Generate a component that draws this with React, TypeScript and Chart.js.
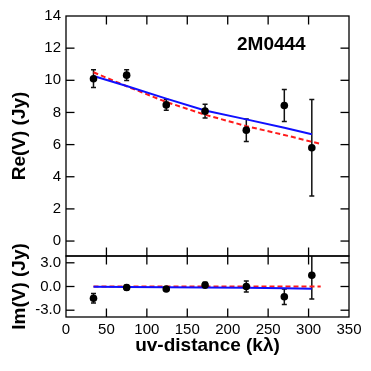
import React, { useEffect, useRef } from "react";
import { Chart, registerables } from "chart.js";

Chart.register(...registerables);

const FONT = "'Liberation Sans', Arial, Helvetica, sans-serif";

// ---- data ----
const uvDist = [34, 75, 124, 172, 223, 270, 304];
const reVis = [10.1, 10.32, 8.47, 8.08, 6.9, 8.43, 5.8];
const reErr = [0.55, 0.33, 0.33, 0.43, 0.7, 1.0, 3.0];
const imVis = [-1.48, -0.13, -0.32, 0.18, 0.0, -1.29, 1.42];
const imErr = [0.6, 0.3, 0.2, 0.35, 0.7, 0.98, 3.0];

const blueModelX = [34, 75, 124, 172, 223, 270, 304];
const reBlueModel = [10.27, 9.65, 8.86, 8.12, 7.57, 7.05, 6.64];
const imBlueModel = [-0.02, -0.05, -0.08, -0.12, -0.17, -0.23, -0.28];

const redModelX = [34, 75, 124, 172, 223, 270, 315];
const reRedModel = [10.5, 9.63, 8.65, 7.86, 7.15, 6.6, 6.04];
const imRedModel = [0, 0, 0, 0, 0, 0, 0];

const xTicks = [0, 50, 100, 150, 200, 250, 300, 350];
const reTicks = [0, 2, 4, 6, 8, 10, 12, 14];
const imTicks = [-3, 0, 3];

const sourceName = "2M0444";

// ---- plugins ----
const innerTicks = {
  id: "innerTicks",
  afterDatasetsDraw(chart: any, _args: any, opts: any) {
    const { ctx, chartArea: a, scales } = chart;
    const L = 8.5;
    ctx.save();
    ctx.strokeStyle = "#000";
    ctx.lineWidth = 1.3;
    ctx.strokeRect(a.left, a.top, a.right - a.left, a.bottom - a.top);
    const line = (x1: number, y1: number, x2: number, y2: number) => {
      ctx.beginPath();
      ctx.moveTo(x1, y1);
      ctx.lineTo(x2, y2);
      ctx.stroke();
    };
    for (const v of opts.xTicks || []) {
      const px = scales.x.getPixelForValue(v);
      if (px <= a.left + 1 || px >= a.right - 1) continue;
      line(px, a.top, px, a.top + L);
      line(px, a.bottom, px, a.bottom - L);
    }
    for (const v of opts.yTicks || []) {
      const py = scales.y.getPixelForValue(v);
      if (py <= a.top + 1 || py >= a.bottom - 1) continue;
      line(a.left, py, a.left + L, py);
      line(a.right, py, a.right - L, py);
    }
    ctx.restore();
  },
};

const errorBars = {
  id: "errorBars",
  beforeDatasetsDraw(chart: any) {
    const { ctx, chartArea: a, scales } = chart;
    ctx.save();
    ctx.beginPath();
    ctx.rect(a.left, a.top, a.right - a.left, a.bottom - a.top);
    ctx.clip();
    ctx.strokeStyle = "#111";
    ctx.lineWidth = 1.5;
    chart.data.datasets.forEach((ds: any, i: number) => {
      if (!ds.errors) return;
      const meta = chart.getDatasetMeta(i);
      meta.data.forEach((pt: any, j: number) => {
        const v = ds.data[j].y;
        const e = ds.errors[j];
        const x = pt.x;
        const yt = scales.y.getPixelForValue(v + e);
        const yb = scales.y.getPixelForValue(v - e);
        ctx.beginPath();
        ctx.moveTo(x, yt);
        ctx.lineTo(x, yb);
        ctx.moveTo(x - 2.5, yt);
        ctx.lineTo(x + 2.5, yt);
        ctx.moveTo(x - 2.5, yb);
        ctx.lineTo(x + 2.5, yb);
        ctx.stroke();
      });
    });
    ctx.restore();
  },
};

const nameLabel = {
  id: "nameLabel",
  afterDraw(chart: any, _a: any, opts: any) {
    if (!opts.text) return;
    const { ctx } = chart;
    ctx.save();
    ctx.font = `bold 19px ${FONT}`;
    ctx.fillStyle = "#000";
    ctx.textAlign = "left";
    ctx.textBaseline = "middle";
    ctx.fillText(opts.text, opts.x, opts.y);
    ctx.restore();
  },
};

function pts(xs: number[], ys: number[]) {
  return xs.map((x, i) => ({ x, y: ys[i] }));
}

function buildConfig(
  kind: "re" | "im",
  vis: number[],
  err: number[],
  blue: number[],
  red: number[],
  yTicks: number[],
  yMin: number,
  yMax: number,
  yTitle: string
): any {
  const isIm = kind === "im";
  return {
    type: "scatter",
    data: {
      datasets: [
        {
          data: pts(redModelX, red),
          showLine: true,
          borderColor: "#ff1a1a",
          borderWidth: 2,
          borderDash: [5, 3],
          pointRadius: 0,
          order: 2,
        },
        {
          data: pts(blueModelX, blue),
          showLine: true,
          borderColor: "#1010ff",
          borderWidth: 2,
          pointRadius: 0,
          order: 1,
        },
        {
          data: pts(uvDist, vis),
          errors: err,
          showLine: false,
          pointRadius: 3.8,
          pointBackgroundColor: "#000",
          pointBorderColor: "#000",
          pointBorderWidth: 0,
          order: 0,
        },
      ],
    },
    options: {
      responsive: false,
      animation: false,
      events: [],
      layout: {
        padding: isIm
          ? { top: 26, right: 22, bottom: 0, left: 0 }
          : { top: 16, right: 22, bottom: 6, left: 0 },
      },
      plugins: {
        legend: { display: false },
        tooltip: { enabled: false },
        innerTicks: { xTicks, yTicks },
        nameLabel: isIm ? {} : { text: sourceName, x: 237, y: 45 },
      },
      scales: {
        x: {
          type: "linear",
          min: 0,
          max: 350,
          display: isIm,
          grid: { display: false, drawTicks: false },
          border: { display: false },
          afterBuildTicks: (s: any) => {
            s.ticks = xTicks.map((v) => ({ value: v }));
          },
          afterFit: (s: any) => {
            s.height = isIm ? 54 : 0;
            s.paddingLeft = 0;
            s.paddingRight = 0;
          },
          ticks: {
            color: "#000",
            padding: 4,
            maxRotation: 0,
            autoSkip: false,
            font: { family: FONT, size: 15 },
          },
          title: {
            display: isIm,
            text: "uv-distance (kλ)",
            color: "#000",
            font: { family: FONT, size: 19, weight: "bold" },
            padding: { top: 0, bottom: 14 },
          },
        },
        y: {
          type: "linear",
          min: yMin,
          max: yMax,
          grid: { display: false, drawTicks: false },
          border: { display: false },
          afterBuildTicks: (s: any) => {
            s.ticks = yTicks.map((v) => ({ value: v }));
          },
          afterFit: (s: any) => {
            s.width = 66;
            s.paddingTop = 0;
            s.paddingBottom = 0;
          },
          ticks: {
            color: "#000",
            padding: 5,
            autoSkip: false,
            font: { family: FONT, size: 15 },
            callback: (v: number) => (isIm ? v.toFixed(1) : String(v)),
          },
          title: {
            display: true,
            text: yTitle,
            color: "#000",
            font: { family: FONT, size: 19, weight: "bold" },
            padding: { top: 8, bottom: 0 },
          },
        },
      },
    },
    plugins: [errorBars, innerTicks, nameLabel],
  };
}

export default function App() {
  const topRef = useRef<HTMLCanvasElement>(null);
  const botRef = useRef<HTMLCanvasElement>(null);

  useEffect(() => {
    const top = new Chart(
      topRef.current as HTMLCanvasElement,
      buildConfig("re", reVis, reErr, reBlueModel, reRedModel, reTicks, -0.93, 14, "Re(V) (Jy)")
    );
    const bot = new Chart(
      botRef.current as HTMLCanvasElement,
      buildConfig("im", imVis, imErr, imBlueModel, imRedModel, imTicks, -3.86, 3.86, "Im(V) (Jy)")
    );
    return () => {
      top.destroy();
      bot.destroy();
    };
  }, []);

  return (
    <div
      style={{
        position: "absolute",
        left: 0,
        top: 0,
        width: 371,
        height: 371,
        background: "#fff",
        overflow: "hidden",
      }}
    >
      <canvas
        ref={botRef}
        width={371}
        height={141}
        style={{ position: "absolute", left: 0, top: 230, width: 371, height: 141 }}
      />
      <canvas
        ref={topRef}
        width={371}
        height={262}
        style={{ position: "absolute", left: 0, top: 0, width: 371, height: 262 }}
      />
    </div>
  );
}
